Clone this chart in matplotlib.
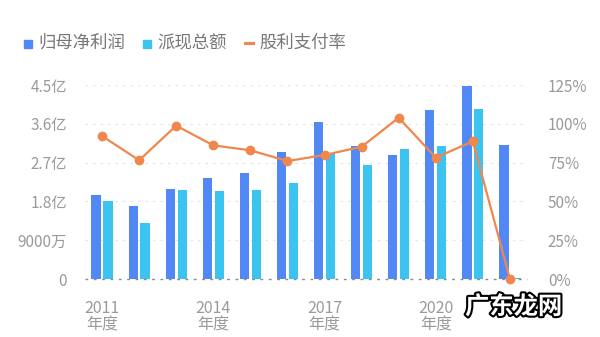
import matplotlib
matplotlib.use("Agg")
import matplotlib.pyplot as plt
import matplotlib.patheffects as pe
from matplotlib.lines import Line2D
from matplotlib.patches import Rectangle
import numpy as np

plt.rcParams['font.family'] = ['Noto Sans CJK SC', 'DejaVu Sans']

years = ['2011', '2012', '2013', '2014', '2015', '2016', '2017', '2018', '2019', '2020', '2021', '2022']
net_profit = [1.95, 1.69, 2.09, 2.35, 2.47, 2.95, 3.64, 3.09, 2.88, 3.92, 4.48, 3.11]  # 亿
dividend = [1.81, 1.29, 2.06, 2.03, 2.06, 2.23, 2.92, 2.64, 3.02, 3.09, 3.95, 0.03]  # 亿
payout = [92.1, 76.5, 98.8, 86.1, 82.9, 76.0, 79.9, 85.2, 103.9, 78.2, 88.7, 0.0]  # %
left_ticks = [0, 0.9, 1.8, 2.7, 3.6, 4.5]
left_labels = ['0', '9000万', '1.8亿', '2.7亿', '3.6亿', '4.5亿']
right_ticks = [0, 25, 50, 75, 100, 125]
right_labels = ['0%', '25%', '50%', '75%', '100%', '125%']
xlabel_years = ['2011', '2014', '2017', '2020']

c_dark = '#5288F5'
c_light = '#3CC4F0'
c_orange = '#F0874E'
c_text = '#9A9A9A'

fig = plt.figure(figsize=(6, 3.37), dpi=100)
ax = fig.add_axes([85/600, 1-279/337, 442/600, 194/337])
x = np.arange(len(years))
w = 0.25
ax.bar(x - 0.16, net_profit, width=w, color=c_dark, zorder=2)
ax.bar(x + 0.16, dividend, width=w, color=c_light, zorder=2)
ax.set_xlim(-0.46, 11.46)
ax.set_ylim(0, 4.5)
ax.set_yticks(left_ticks)
ax.set_yticklabels(left_labels)
for t in left_ticks[1:]:
    ax.axhline(t, color='#E6E6E6', lw=0.9, ls=(0, (2, 4)), zorder=1)
ax.axhline(0, color='#8A8A8A', lw=1.0, ls=(0, (2, 4)), zorder=3, clip_on=False)
for s in ax.spines.values():
    s.set_visible(False)
ax.tick_params(axis='y', length=0, labelsize=11, labelcolor=c_text, pad=13)
xt = [years.index(y) for y in xlabel_years]
ax.set_xticks(xt)
ax.set_xticklabels([y + '\n年度' for y in xlabel_years], linespacing=1.0)
ax.tick_params(axis='x', length=0, labelsize=11.5, labelcolor=c_text, pad=15)

ax2 = ax.twinx()
ax2.set_ylim(0, 125)
ax2.set_yticks(right_ticks)
ax2.set_yticklabels(right_labels)
for s in ax2.spines.values():
    s.set_visible(False)
ax2.tick_params(axis='y', length=0, labelsize=11, labelcolor=c_text, pad=15)
ax2.plot(x, payout, color=c_orange, lw=1.6, marker='o', ms=6, zorder=5, clip_on=False)

# legend
fig.patches.append(Rectangle((24/600, 1-48/337), 8/600, 8/337, color=c_dark, transform=fig.transFigure, figure=fig))
fig.text(38/600, 1-43/337, '归母净利润', fontsize=12.5, color='#777777', va='center')
fig.patches.append(Rectangle((143/600, 1-48/337), 8/600, 8/337, color=c_light, transform=fig.transFigure, figure=fig))
fig.text(157/600, 1-43/337, '派现总额', fontsize=12.5, color='#777777', va='center')
fig.lines.append(Line2D([245/600, 253/600], [1-43/337, 1-43/337], color=c_orange, lw=2.2, transform=fig.transFigure))
fig.text(259/600, 1-43/337, '股利支付率', fontsize=12.5, color='#777777', va='center')

# watermark
fig.text(465/600, 1-307/337, '广东龙网', fontsize=17.5, color='white', va='center', fontweight='bold',
         path_effects=[pe.withStroke(linewidth=3, foreground='black')])

fig.savefig('out.png', dpi=100)
